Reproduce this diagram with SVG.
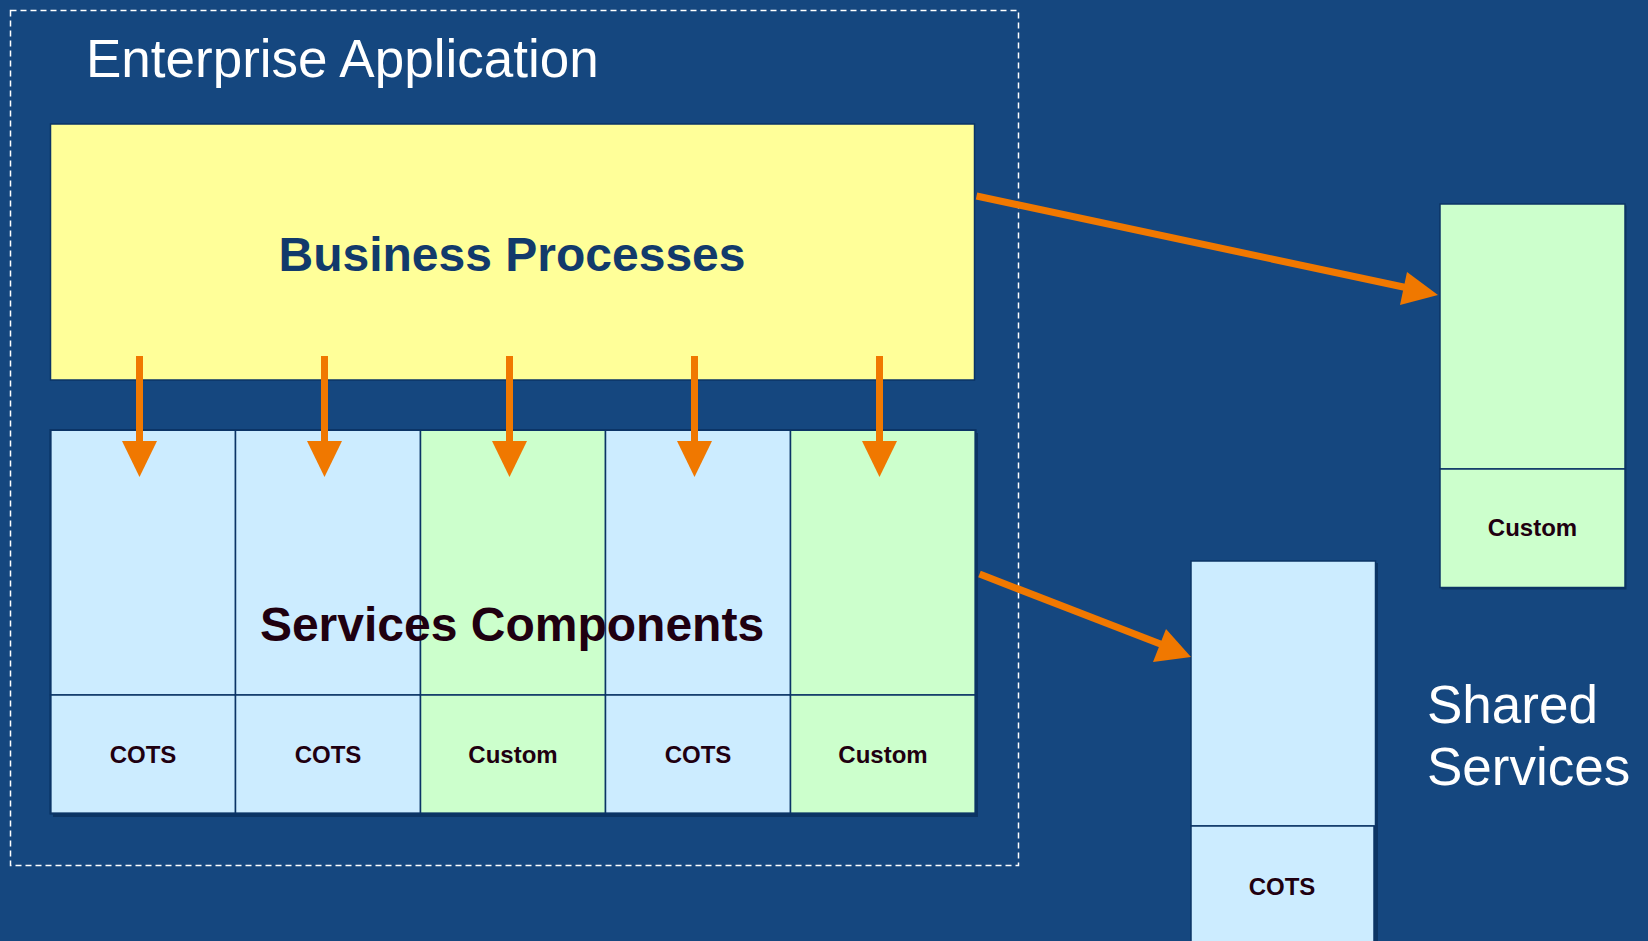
<svg xmlns="http://www.w3.org/2000/svg" width="1648" height="941" viewBox="0 0 1648 941">
<defs>
<style>
.bg{fill:#15477F}
.blue{fill:#CCECFF;stroke:#0B3466;stroke-width:1.5}
.green{fill:#CCFFCC;stroke:#0B3466;stroke-width:1.5}
.lbl{font-family:"Liberation Sans",Arial,sans-serif;font-weight:bold;font-size:24px;fill:#1F0010;text-anchor:middle}
.big{font-family:"Liberation Sans",Arial,sans-serif;font-size:53px;fill:#FFFFFF}
.conn{stroke:#F07800;stroke-width:7;fill:none}
.head{fill:#F07800}
</style>
</defs>
<rect class="bg" x="0" y="0" width="1648" height="941"/>
<g id="enterprise-application">
<rect x="10.5" y="10.5" width="1008" height="855" fill="none" stroke="#FFFFFF" stroke-width="1.5" stroke-dasharray="6 4"/>
<text class="big" x="86" y="77">Enterprise Application</text>
</g>
<g id="business-processes">
<rect x="50.5" y="124" width="924" height="256" fill="#FFFF99" stroke="#0B3466" stroke-width="1.5"/>
<text x="512" y="271" font-family="'Liberation Sans',Arial,sans-serif" font-weight="bold" font-size="48" fill="#123A6B" text-anchor="middle">Business Processes</text>
</g>
<g id="services-components">
<rect x="53" y="433" width="925" height="384" fill="#0C3463"/>
<rect class="blue" x="50.5" y="430" width="185" height="265"/>
<rect class="blue" x="50.5" y="695" width="185" height="118.5"/>
<rect class="blue" x="235.5" y="430" width="185" height="265"/>
<rect class="blue" x="235.5" y="695" width="185" height="118.5"/>
<rect class="green" x="420.5" y="430" width="185" height="265"/>
<rect class="green" x="420.5" y="695" width="185" height="118.5"/>
<rect class="blue" x="605.5" y="430" width="185" height="265"/>
<rect class="blue" x="605.5" y="695" width="185" height="118.5"/>
<rect class="green" x="790.5" y="430" width="185" height="265"/>
<rect class="green" x="790.5" y="695" width="185" height="118.5"/>
<rect x="50.5" y="430" width="925" height="383.5" fill="none" stroke="#0B3466" stroke-width="2"/>
<text x="512" y="641" font-family="'Liberation Sans',Arial,sans-serif" font-weight="bold" font-size="48" fill="#1F0010" text-anchor="middle">Services Components</text>
<text class="lbl" x="143" y="763">COTS</text>
<text class="lbl" x="328" y="763">COTS</text>
<text class="lbl" x="513" y="763">Custom</text>
<text class="lbl" x="698" y="763">COTS</text>
<text class="lbl" x="883" y="763">Custom</text>
</g>
<g id="shared-custom">
<rect x="1441.5" y="205.5" width="185" height="384" fill="#0C3463"/>
<rect class="green" x="1440" y="204" width="185" height="265"/>
<rect class="green" x="1440" y="469" width="185" height="118.5"/>
<text class="lbl" x="1532.5" y="536">Custom</text>
</g>
<g id="shared-cots">
<rect x="1193" y="563" width="185" height="385" fill="#0C3463"/>
<rect class="blue" x="1191" y="561" width="184.5" height="265"/>
<rect class="blue" x="1191" y="826" width="183" height="118.5"/>
<text class="lbl" x="1282" y="894.5">COTS</text>
</g>
<g id="shared-services-label">
<text class="big" x="1427" y="723">Shared</text>
<text class="big" x="1427" y="785">Services</text>
</g>
<g id="connectors">
<line class="conn" x1="139.5" y1="356" x2="139.5" y2="445"/>
<polygon class="head" points="122,441 157,441 139.5,477"/>
<line class="conn" x1="324.5" y1="356" x2="324.5" y2="445"/>
<polygon class="head" points="307,441 342,441 324.5,477"/>
<line class="conn" x1="509.5" y1="356" x2="509.5" y2="445"/>
<polygon class="head" points="492,441 527,441 509.5,477"/>
<line class="conn" x1="694.5" y1="356" x2="694.5" y2="445"/>
<polygon class="head" points="677,441 712,441 694.5,477"/>
<line class="conn" x1="879.5" y1="356" x2="879.5" y2="445"/>
<polygon class="head" points="862,441 897,441 879.5,477"/>
<line class="conn" x1="976.5" y1="196" x2="1408" y2="288"/>
<polygon class="head" points="1438,295 1400,305 1407,272"/>
<line class="conn" x1="979.5" y1="574" x2="1163" y2="645"/>
<polygon class="head" points="1191,657 1153,662 1166,629"/>
</g>
</svg>
